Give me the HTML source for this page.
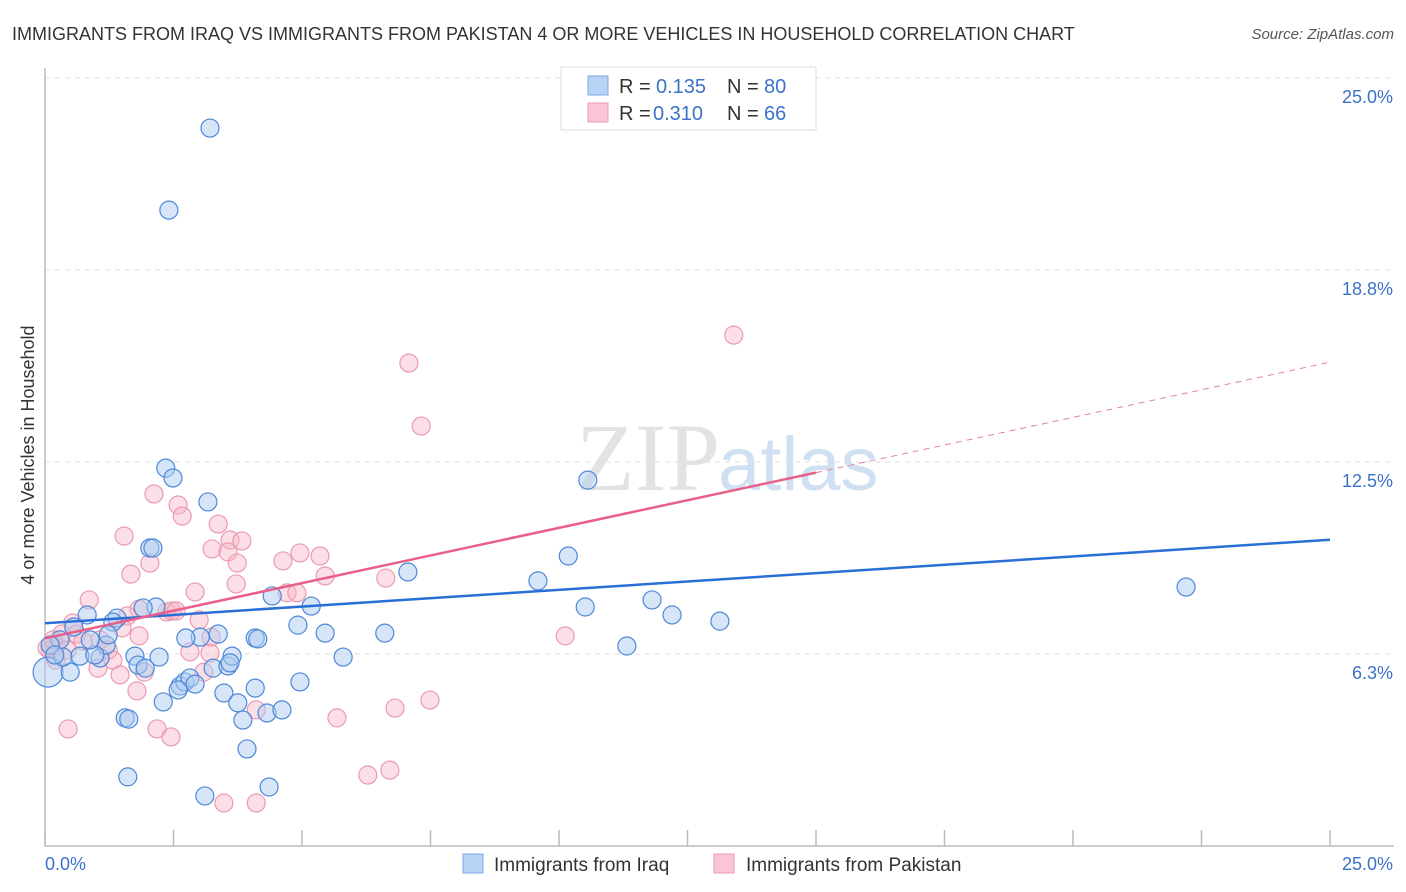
<!DOCTYPE html>
<html><head><meta charset="utf-8"><style>
body{margin:0;background:#fff;font-family:"Liberation Sans",sans-serif;}
svg{display:block}
</style></head><body>
<svg id="chart" width="1406" height="892">
<text x="12" y="40" font-size="18" fill="#333">IMMIGRANTS FROM IRAQ VS IMMIGRANTS FROM PAKISTAN 4 OR MORE VEHICLES IN HOUSEHOLD CORRELATION CHART</text>
<text x="1394" y="39" font-size="15" fill="#555" font-style="italic" text-anchor="end">Source: ZipAtlas.com</text>
<text x="720" y="490" font-size="96" fill="#e3e3e3" font-family="Liberation Serif,serif" text-anchor="end">ZIP</text>
<text x="718" y="490" font-size="76" fill="#cfe0f3">atlas</text>
<g id="grid"></g><g id="axes"></g><g id="pink"></g><g id="blue"></g><g id="lines"></g>
<text transform="translate(34,455) rotate(-90)" font-size="18" fill="#333" text-anchor="middle">4 or more Vehicles in Household</text>
<g>
<rect x="561" y="67" width="255" height="63" fill="#fff" stroke="#ddd"/>
<rect x="588" y="76" width="20" height="19" fill="#b8d3f5" stroke="#7aa9e6"/>
<rect x="588" y="103" width="20" height="19" fill="#fac6d6" stroke="#ee9ab3"/>
<text x="619" y="93" font-size="20" fill="#333">R = </text><text x="656" y="93" font-size="20" fill="#3b73c9">0.135</text>
<text x="727" y="93" font-size="20" fill="#333">N = </text><text x="764" y="93" font-size="20" fill="#3b73c9">80</text>
<text x="619" y="120" font-size="20" fill="#333">R = </text><text x="653" y="120" font-size="20" fill="#3b73c9">0.310</text>
<text x="727" y="120" font-size="20" fill="#333">N = </text><text x="764" y="120" font-size="20" fill="#3b73c9">66</text>
</g>
<g><rect x="463" y="854" width="20" height="19" fill="#b8d3f5" stroke="#7aa9e6"/><text x="494" y="871" font-size="19" fill="#333">Immigrants from Iraq</text></g>
<g><rect x="714" y="854" width="20" height="19" fill="#fac6d6" stroke="#ee9ab3"/><text x="746" y="871" font-size="19" fill="#333">Immigrants from Pakistan</text></g>
</svg>
<script>
const iraqX=[3.21,2.41,2.35,2.49,3.17,2.04,2.10,10.56,10.18,9.59,7.06,10.51,11.81,12.20,13.13,22.20,11.32,4.42,5.18,4.92,5.45,6.61,5.80,4.09,4.14,3.37,3.02,2.74,2.16,1.91,1.40,1.32,0.82,0.56,0.29,0.10,0.06,0.49,0.35,0.68,1.07,1.19,1.23,1.75,1.81,2.22,1.95,2.63,2.72,2.82,2.92,2.59,2.30,3.27,3.56,3.64,3.60,3.48,4.09,3.75,4.96,3.85,4.32,4.61,1.56,1.63,3.93,1.61,3.11,4.36,0.97,0.88,0.19];
const iraqY=[23.37,20.70,12.30,11.98,11.20,9.70,9.70,11.91,9.44,8.63,8.92,7.78,8.01,7.52,7.32,8.43,6.51,8.14,7.81,7.19,6.93,6.93,6.15,6.77,6.74,6.90,6.80,6.77,7.78,7.75,7.42,7.29,7.52,7.13,6.71,6.54,5.66,5.66,6.15,6.18,6.12,6.54,6.87,6.18,5.89,6.15,5.79,5.21,5.34,5.47,5.27,5.08,4.69,5.79,5.86,6.18,5.96,4.98,5.14,4.66,5.34,4.10,4.33,4.43,4.17,4.13,3.16,2.25,1.63,1.92,6.22,6.71,6.22];
const pakX=[13.40,7.08,7.32,2.12,2.59,2.67,3.37,1.54,3.60,3.83,3.25,3.56,2.04,1.67,4.63,4.96,5.35,5.45,3.74,3.72,2.92,4.71,4.90,6.63,0.86,1.83,2.37,2.47,2.55,3.00,1.60,0.54,0.62,1.07,1.83,0.33,0.21,0.10,0.43,3.23,2.82,1.32,1.03,1.46,1.93,3.09,1.79,0.45,2.18,2.45,5.68,4.11,6.81,7.49,3.48,4.11,6.28,6.71,10.12,3.21,0.21,0.04,0.16,0.74,1.23,1.50];
const pakY=[16.63,15.72,13.67,11.46,11.10,10.74,10.48,10.09,9.96,9.93,9.67,9.57,9.21,8.85,9.28,9.54,9.44,8.79,9.21,8.53,8.27,8.24,8.24,8.72,8.01,7.71,7.62,7.65,7.65,7.36,7.49,7.26,6.90,6.71,6.84,6.90,6.51,6.38,6.38,6.80,6.32,6.05,5.79,5.57,5.66,5.66,5.05,3.81,3.81,3.55,4.17,4.43,4.49,4.75,1.40,1.40,2.31,2.47,6.84,6.28,6.05,6.45,6.71,6.67,6.38,7.10];
const yTicks=[6.25,12.5,18.75,25];
const yTickLabels=["6.3%","12.5%","18.8%","25.0%"];
const iraqTrend=[7.25,9.97];
const pakTrend=[6.76,15.75];
const NS="http://www.w3.org/2000/svg";
const X0=45,X1=1330,YB=846;
const sx=v=>X0+v/25*(X1-X0);
const sy=v=>YB-v*30.72;
function mk(tag,attrs,parent){const e=document.createElementNS(NS,tag);for(const k in attrs)e.setAttribute(k,attrs[k]);document.getElementById(parent).appendChild(e);return e;}
yTicks.forEach((t,i)=>{
 const g=mk('line',{x1:X0,x2:1394,y1:sy(t),y2:sy(t),stroke:'#ddd','stroke-dasharray':'5,5'},'grid');
 
 
 const l=mk('text',{x:1393,y:sy(t)+25,'font-size':18,fill:'#3b73c9','text-anchor':'end'},'grid');
 l.textContent=yTickLabels[i];
 
 
});
const ax=mk('line',{x1:X0,x2:X0,y1:68,y2:YB,stroke:'#bbb','stroke-width':1.5},'axes');


const bx=mk('line',{x1:X0,x2:1394,y1:YB,y2:YB,stroke:'#bbb','stroke-width':1.5},'axes');


for(let i=0;i<=10;i++){
 const t=mk('line',{x1:sx(i*2.5),x2:sx(i*2.5),y1:YB-16,y2:YB,stroke:'#bbb','stroke-width':1.5},'axes');
 
 
}
const xl0=mk('text',{x:45,y:870,'font-size':18,fill:'#3b73c9'},'axes');xl0.textContent='0.0%';


const xl1=mk('text',{x:1393,y:870,'font-size':18,fill:'#3b73c9','text-anchor':'end'},'axes');xl1.textContent='25.0%';


pakX.forEach((x,i)=>{
 const c=mk('circle',{cx:sx(x),cy:sy(pakY[i]),r:9,fill:'rgba(248,182,200,0.45)',stroke:'#ea9ab2','stroke-width':1.2},'pink');
 
 
});
iraqX.forEach((x,i)=>{
 const c=mk('circle',{cx:sx(x),cy:sy(iraqY[i]),r:(i==36?15:9),fill:'rgba(173,203,240,0.5)',stroke:'#4d88d9','stroke-width':1.2},'blue');
 
 
});
const bl=mk('line',{x1:sx(0),y1:sy(iraqTrend[0]),x2:sx(25),y2:sy(iraqTrend[1]),stroke:'#2a6fd6','stroke-width':2.5},'lines');


const pm=pakTrend[0]+(pakTrend[1]-pakTrend[0])*15/25;
const pl=mk('line',{x1:sx(0),y1:sy(pakTrend[0]),x2:sx(15),y2:sy(pm),stroke:'#e8608a','stroke-width':2.5},'lines');


const pd=mk('line',{x1:sx(15),y1:sy(pm),x2:sx(25),y2:sy(pakTrend[1]),stroke:'#e8809f','stroke-width':1,'stroke-dasharray':'6,5'},'lines');


</script>
</body></html>
